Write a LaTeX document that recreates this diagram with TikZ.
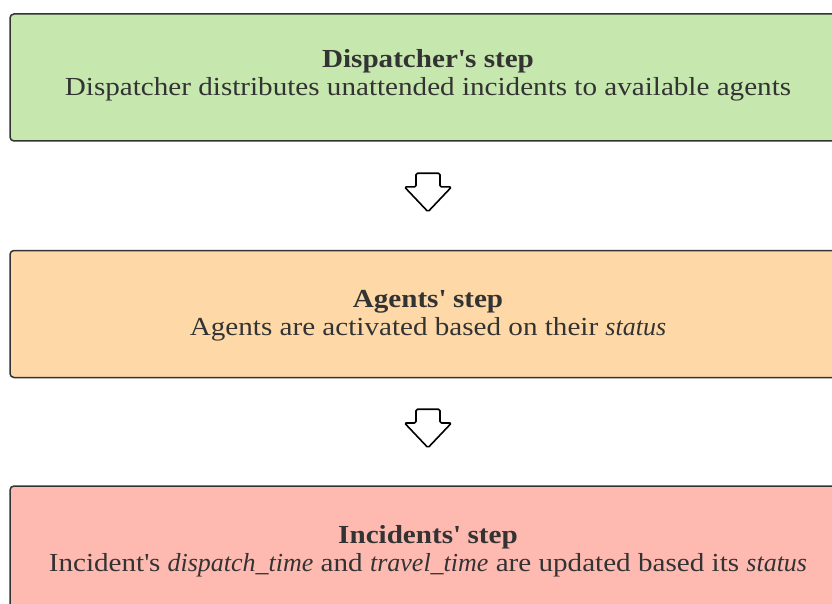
\documentclass[tikz,border=0pt]{standalone}
\usepackage{fontspec}
\setmainfont{Liberation Serif}[FakeStretch=1.12, ItalicFeatures={FakeStretch=1.0}]
\usetikzlibrary{calc}
\definecolor{inkgray}{RGB}{51,51,51}
\definecolor{stepgreen}{RGB}{198,231,174}
\definecolor{steporange}{RGB}{254,217,167}
\definecolor{stepred}{RGB}{254,186,176}
\newcommand{\apos}{\textquotesingle}
\tikzset{
  stepbox/.style={draw=inkgray, line width=1.5pt, rounded corners=4pt,
    minimum width=836pt, minimum height=127pt, inner sep=0pt,
    align=center, text=inkgray,
    font=\fontsize{26}{28}\selectfont},
  steptext/.style={align=center, text=inkgray, inner sep=0pt,
    font=\fontsize{26}{28}\selectfont},
  hollowarrow/.style={draw=black, fill=white, line width=1.6pt,
    line join=round, rounded corners=1.5pt},
}
\begin{document}
\begin{tikzpicture}[x=1pt,y=-1pt]
  \useasboundingbox (0,0) rectangle (832,604);
  \clip (0,0) rectangle (832,604);

  % three stages of the simulation step
  \node[stepbox, fill=stepgreen] (disp) at (428,77.5) {};
  \node[stepbox, fill=steporange] (agen) at (428,314) {};
  \node[stepbox, fill=stepred] (inci) at (428,549.5) {};

  \node[steptext, anchor=base] (dispT) at (428,68) {\textbf{Dispatcher\apos s step}};
  \node[steptext, anchor=base] (dispD) at (428,96)
    {Dispatcher distributes unattended incidents to available agents};
  \node[steptext, anchor=base] (agenT) at (428,307.5) {\textbf{Agents\apos\ step}};
  \node[steptext, anchor=base] (agenD) at (428,335.5)
    {Agents are activated based on their \textit{status}};
  \node[steptext, anchor=base] (inciT) at (428,543) {\textbf{Incidents\apos\ step}};
  \node[steptext, anchor=base] (inciD) at (428,571)
    {Incident\apos s \textit{dispatch\_time} and \textit{travel\_time} are updated based its \textit{status}};

  % hollow block arrows between the stages
  \coordinate (m1) at ($(disp.south)!0.5!(agen.north)$);
  \coordinate (m2) at ($(agen.south)!0.5!(inci.north)$);
  \foreach \m in {m1,m2} {
    \draw[hollowarrow]
      ([shift={(-12,-22.5)}]\m) -- ([shift={(-12,-8.8)}]\m)
      -- ([shift={(-23.5,-8.8)}]\m) -- ([shift={(0,16)}]\m)
      -- ([shift={(23.5,-8.8)}]\m) -- ([shift={(12,-8.8)}]\m)
      -- ([shift={(12,-22.5)}]\m) -- cycle;
  }
\end{tikzpicture}
\end{document}
